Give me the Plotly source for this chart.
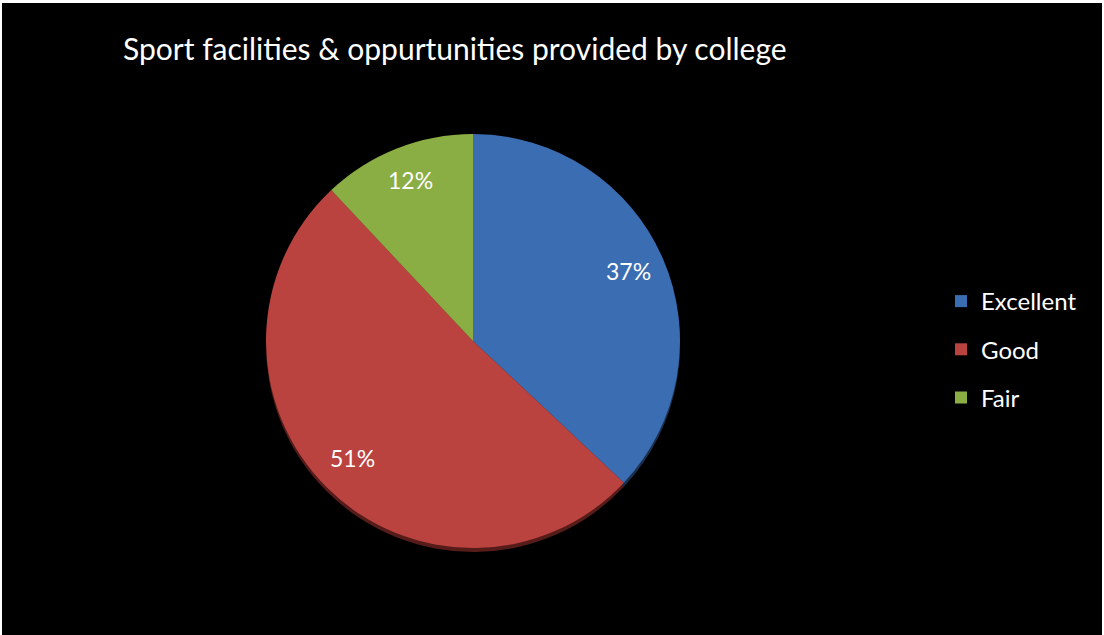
import math
import plotly.graph_objects as go

labels = ["Excellent", "Good", "Fair"]
values = [37, 51, 12]
colors = ["#3A6DB2", "#BA423F", "#8BAE44"]
shadow_colors = ["#1E3558", "#5E1F1D", "#44561F"]
title_text = "Sport facilities & oppurtunities provided by college"

W, H = 1104, 635
cx, cy, r = 473, 341, 207
label_r = 0.82

fig = go.Figure()
# soft shadow under the pie
fig.add_trace(go.Pie(
    labels=labels, values=values, sort=False, direction="clockwise", rotation=0,
    marker=dict(colors=shadow_colors, line=dict(width=0)), opacity=0.9,
    textinfo="none", hoverinfo="skip", showlegend=False,
    domain=dict(x=[(cx - r) / W, (cx + r) / W], y=[(H - cy - 4 - r) / H, (H - cy - 4 + r) / H]),
))
fig.add_trace(go.Pie(
    labels=labels, values=values, sort=False, direction="clockwise", rotation=0,
    marker=dict(colors=colors, line=dict(width=0)),
    textinfo="none", hoverinfo="label+percent", showlegend=False,
    domain=dict(x=[(cx - r) / W, (cx + r) / W], y=[(H - cy - r) / H, (H - cy + r) / H]),
))
for lab, col in zip(labels, colors):
    fig.add_trace(go.Scatter(
        x=[None], y=[None], mode="markers", name=lab, legendgroup=lab,
        marker=dict(symbol="square", size=15, color=col),
    ))

# percentage labels placed along each slice's bisector
total = sum(values)
annotations = []
cum = 0
for v in values:
    mid = (cum + v / 2) / total * 2 * math.pi
    cum += v
    px = cx + label_r * r * math.sin(mid)
    py = cy - 3 - label_r * r * math.cos(mid)
    annotations.append(dict(
        x=px / W, y=1 - py / H, xref="paper", yref="paper", showarrow=False,
        text=f"{round(v / total * 100)}%", font=dict(family="Lato", size=23, color="white"),
        xanchor="center", yanchor="middle",
    ))

fig.update_layout(
    width=W, height=H,
    margin=dict(l=0, r=0, t=0, b=0),
    paper_bgcolor="white", plot_bgcolor="rgba(0,0,0,0)",
    xaxis=dict(visible=False), yaxis=dict(visible=False),
    title=dict(text=title_text, x=123 / W, xanchor="left", y=1 - 49 / H, yanchor="middle",
               font=dict(family="Lato", size=30, color="white")),
    legend=dict(x=941 / W, xanchor="left", y=1 - 279 / H, yanchor="top",
                font=dict(family="Lato", size=24, color="white"),
                tracegroupgap=14, itemsizing="constant", bgcolor="rgba(0,0,0,0)"),
    annotations=annotations,
    shapes=[dict(type="rect", xref="paper", yref="paper", x0=2 / W, x1=1102 / W, y0=0, y1=1 - 3 / H,
                 fillcolor="black", line=dict(width=0), layer="below")],
)
fig.write_html("out.html", config={"displayModeBar": False},
               post_script="document.body.style.margin='0';")
